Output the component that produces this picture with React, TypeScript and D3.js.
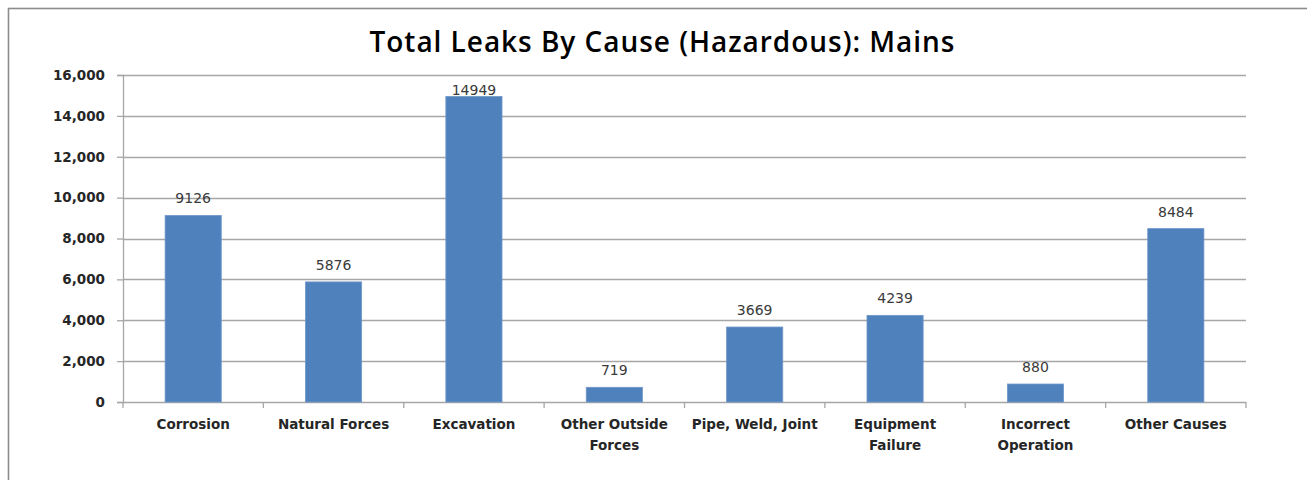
import React, { useEffect, useRef } from 'react';
import * as d3 from 'd3';

const categories = [
  'Corrosion',
  'Natural Forces',
  'Excavation',
  'Other Outside\nForces',
  'Pipe, Weld, Joint',
  'Equipment\nFailure',
  'Incorrect\nOperation',
  'Other Causes',
];
const leaks = [9126, 5876, 14949, 719, 3669, 4239, 880, 8484];
const yTicks = [0, 2000, 4000, 6000, 8000, 10000, 12000, 14000, 16000];
const title = 'Total Leaks By Cause (Hazardous): Mains';

export default function App() {
  const ref = useRef<SVGSVGElement>(null);

  useEffect(() => {
    const svg = d3.select(ref.current);
    svg.selectAll('*').remove();

    const width = 1307;
    const height = 480;
    const margin = { top: 75, left: 123, bottom: 78, right: 61 };
    const iwidth = width - margin.left - margin.right;
    const iheight = height - margin.top - margin.bottom;

    // outer frame (runs off the right and bottom edges)
    svg.append('rect')
      .attr('x', 8.5).attr('y', 8.5)
      .attr('width', width + 20).attr('height', height + 20)
      .attr('fill', 'white')
      .attr('stroke', '#8c8c8c')
      .attr('stroke-width', 1.6);

    svg.append('text')
      .attr('x', 662).attr('y', 52)
      .attr('text-anchor', 'middle')
      .attr('textLength', 585)
      .attr('lengthAdjust', 'spacing')
      .style('font-family', '"Open Sans", sans-serif')
      .style('font-weight', 600)
      .style('font-size', '28px')
      .attr('fill', '#000')
      .text(title);

    const g = svg.append('g').attr('transform', `translate(${margin.left},${margin.top})`);

    const y = d3.scaleLinear().domain([0, 16000]).range([iheight, 0]);
    const x = d3.scaleBand().domain(categories).range([0, iwidth]).paddingInner(0.6).paddingOuter(0.3);
    const step = x.step();

    // gridlines
    g.selectAll('line.grid').data(yTicks.filter((d) => d > 0)).enter()
      .append('line')
      .attr('x1', 0).attr('x2', iwidth)
      .attr('y1', (d) => Math.round(y(d)) + 0.5).attr('y2', (d) => Math.round(y(d)) + 0.5)
      .attr('stroke', '#a6a6a6').attr('stroke-width', 1.3);

    // y axis
    const yAxis = g.append('g').call(
      d3.axisLeft(y).tickValues(yTicks).tickSize(6).tickPadding(12).tickFormat(d3.format(','))
    );
    yAxis.select('.domain').attr('stroke', '#a6a6a6').attr('stroke-width', 1.3);
    yAxis.selectAll('.tick line').attr('stroke', '#a6a6a6').attr('stroke-width', 1.3);
    yAxis.selectAll('.tick text')
      .style('font-family', '"DejaVu Sans", sans-serif')
      .style('font-weight', 700)
      .style('font-size', '13.5px')
      .attr('fill', '#262626');

    // x axis baseline with ticks at category boundaries
    g.append('line')
      .attr('x1', 0).attr('x2', iwidth)
      .attr('y1', iheight + 0.5).attr('y2', iheight + 0.5)
      .attr('stroke', '#a6a6a6').attr('stroke-width', 1.3);
    g.selectAll('line.xtick').data(d3.range(categories.length + 1)).enter()
      .append('line')
      .attr('x1', (i) => i * step).attr('x2', (i) => i * step)
      .attr('y1', iheight).attr('y2', iheight + 6)
      .attr('stroke', '#a6a6a6').attr('stroke-width', 1.3);

    // category labels
    const labels = g.selectAll('text.cat').data(categories).enter()
      .append('text')
      .attr('x', (d) => x(d)! + x.bandwidth() / 2)
      .attr('y', iheight + 27)
      .attr('text-anchor', 'middle')
      .style('font-family', '"DejaVu Sans", sans-serif')
      .style('font-weight', 700)
      .style('font-size', '13.5px')
      .attr('fill', '#262626');
    labels.each(function (d) {
      const lines = d.split('\n');
      const t = d3.select(this);
      lines.forEach((line, i) => {
        t.append('tspan')
          .attr('x', x(d)! + x.bandwidth() / 2)
          .attr('dy', i === 0 ? 0 : 21)
          .text(line);
      });
    });

    // bars
    g.selectAll('rect.bar').data(categories).enter()
      .append('rect')
      .attr('x', (d) => x(d)!)
      .attr('y', (d, i) => y(leaks[i]))
      .attr('width', x.bandwidth())
      .attr('height', (d, i) => iheight - y(leaks[i]))
      .attr('fill', '#4f81bd')
      .attr('stroke', '#6f97c9')
      .attr('stroke-width', 0.8);

    // value labels
    g.selectAll('text.val').data(categories).enter()
      .append('text')
      .attr('x', (d) => x(d)! + x.bandwidth() / 2)
      .attr('y', (d, i) => Math.max(y(leaks[i]) - 12, 20))
      .attr('text-anchor', 'middle')
      .style('font-family', '"DejaVu Sans", sans-serif')
      .style('font-size', '14px')
      .attr('fill', '#3a3a3a')
      .text((d, i) => String(leaks[i]));
  }, []);

  return (
    <svg
      ref={ref}
      width={1307}
      height={480}
      style={{ position: 'absolute', left: 0, top: 0, display: 'block', background: 'white' }}
    />
  );
}
